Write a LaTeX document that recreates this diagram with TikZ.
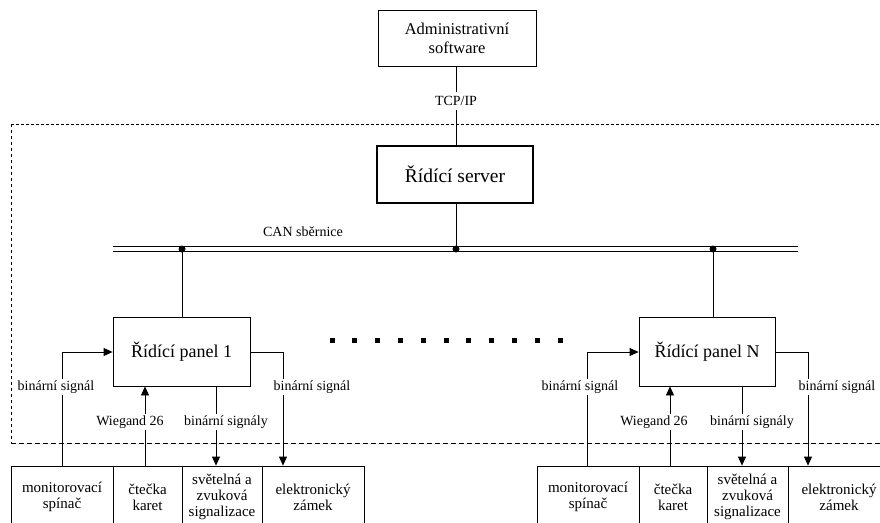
\documentclass[tikz,border=0pt]{standalone}
\usepackage{fontspec}
\setmainfont{Liberation Serif}
\usetikzlibrary{arrows.meta}
\begin{document}
\begin{tikzpicture}[x=1pt,y=-1pt,
  line width=0.8pt,
  box/.style={draw,rectangle,inner sep=0pt,align=center},
  botbox/.style={box,minimum height=62pt,font=\fontsize{15}{16}\selectfont},
  lbl/.style={fill=white,inner sep=1.5pt,font=\fontsize{14}{16}\selectfont},
  arr/.style={-{Triangle[length=9pt,width=8pt]}},
  bus/.style={line width=0.9pt},
  jdot/.style={circle,fill=black,inner sep=0pt,minimum size=7pt}]
\useasboundingbox (0,0) rectangle (880,522);
% dashed frame
\draw[dash pattern=on 3pt off 2pt,line width=0.7pt] (11,124) -- (880,124);
\draw[dash pattern=on 3pt off 3pt,line width=0.7pt] (11,124) -- (11,443);
\draw[dash pattern=on 5pt off 3pt,line width=0.7pt] (11,443) -- (880,443);
% top
\node[box,minimum width=158pt,minimum height=56pt,font=\fontsize{16.5}{19}\selectfont] (admin) at (457,38) {Administrativní\\software};
\node[box,minimum width=156pt,minimum height=57pt,line width=2pt,font=\fontsize{19.5}{22}\selectfont] (server) at (455,174.5) {Řídící server};
\coordinate (tcpx) at (456,0);
\draw (tcpx |- admin.south) -- node[pos=0.44,lbl,inner sep=4pt,font=\fontsize{14}{16}\selectfont]{TCP/IP} (tcpx |- server.north);
% bus
\draw[bus] (113,246.7) -- (798,246.7);
\draw[bus] (113,251.3) -- (798,251.3);
\node[font=\fontsize{14}{16}\selectfont] (canlbl) at (303,232) {CAN sběrnice};
\coordinate (bus1) at (182,249);
\coordinate (bus0) at (456,249);
\coordinate (busN) at (713,249);
\draw (bus0 |- server.south) -- (bus0);
% panels
\node[box,minimum width=137pt,minimum height=69pt,font=\fontsize{18}{20}\selectfont] (panel1) at (181.5,351.5) {Řídící panel 1};
\node[box,minimum width=136pt,minimum height=69pt,font=\fontsize{18}{20}\selectfont] (panelN) at (707,351.5) {Řídící panel N};
\draw (bus1) -- (bus1 |- panel1.north);
\draw (busN) -- (busN |- panelN.north);
\node[jdot] at (bus1) {};
\node[jdot] at (bus0) {};
\node[jdot] at (busN) {};
% ellipsis
\foreach \i in {0,...,10} {
  \fill ({332+22.8*\i-2.5},337.5) rectangle ++(5,5);
}
% bottom boxes panel 1
\node[botbox,minimum width=102pt] (mon1) at (62,497) {monitorovací\\spínač};
\node[botbox,minimum width=69pt] (ct1) at (147.5,497) {čtečka\\karet};
\node[botbox,minimum width=80pt] (sv1) at (222,497) {světelná a\\zvuková\\signalizace};
\node[botbox,minimum width=102pt] (el1) at (313,497) {elektronický\\zámek};
% bottom boxes panel N
\node[botbox,minimum width=102pt] (monN) at (588,497) {monitorovací\\spínač};
\node[botbox,minimum width=68pt] (ctN) at (673,497) {čtečka\\karet};
\node[botbox,minimum width=81pt] (svN) at (747.5,497) {světelná a\\zvuková\\signalizace};
\node[botbox,minimum width=102pt] (elN) at (839,497) {elektronický\\zámek};
% connections panel 1
\coordinate (m1t) at ([xshift=0pt]mon1.north);
\draw[arr] (m1t) -- (m1t |- 0,352) -- (panel1.west |- 0,352);
\coordinate (c1t) at ([xshift=-2.5pt]ct1.north);
\draw[arr] (c1t) -- (c1t |- panel1.south);
\coordinate (s1t) at ([xshift=-6pt]sv1.north);
\draw[arr] (s1t |- panel1.south) -- (s1t);
\coordinate (e1t) at ([xshift=-30pt]el1.north);
\draw[arr] (panel1.east |- 0,352) -- (e1t |- 0,352) -- (e1t);
\node[lbl] (l1a) at (56,387) {binární signál};
\node[lbl] (l1b) at (130,422) {Wiegand 26};
\node[lbl] (l1c) at (226,422) {binární signály};
\node[lbl] (l1d) at (312,387) {binární signál};
% connections panel N
\coordinate (mNt) at ([xshift=-1pt]monN.north);
\draw[arr] (mNt) -- (mNt |- 0,352) -- (panelN.west |- 0,352);
\coordinate (cNt) at ([xshift=-3pt]ctN.north);
\draw[arr] (cNt) -- (cNt |- panelN.south);
\coordinate (sNt) at ([xshift=-5.5pt]svN.north);
\draw[arr] (sNt |- panelN.south) -- (sNt);
\coordinate (eNt) at ([xshift=-31pt]elN.north);
\draw[arr] (panelN.east |- 0,352) -- (eNt |- 0,352) -- (eNt);
\node[lbl] (lNa) at (580,387) {binární signál};
\node[lbl] (lNb) at (654,422) {Wiegand 26};
\node[lbl] (lNc) at (752,422) {binární signály};
\node[lbl] (lNd) at (837,387) {binární signál};
\end{tikzpicture}
\end{document}
